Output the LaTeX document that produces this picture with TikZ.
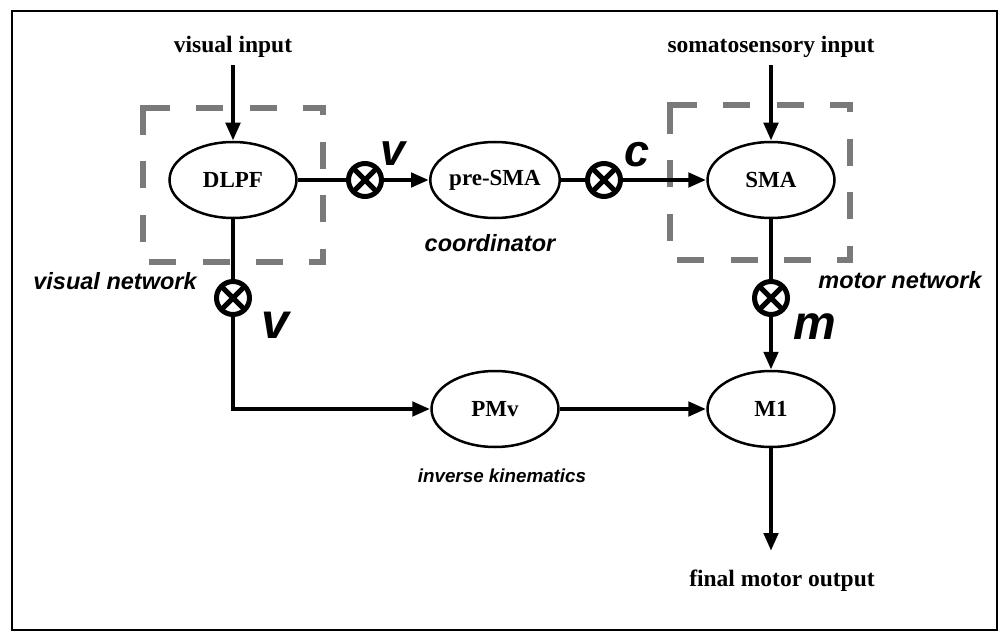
\documentclass[tikz,border=0pt]{standalone}
\usepackage{fontspec}
\setmainfont{Liberation Serif}
\newfontfamily\lblfont{Liberation Sans}
\usetikzlibrary{arrows.meta,shapes.geometric,calc}
\definecolor{dashgray}{HTML}{7A7A7A}
\tikzset{
  area/.style={ellipse, draw=black, line width=2.5pt, minimum width=127pt, minimum height=76pt, inner sep=0pt,
    font=\fontsize{23}{27}\selectfont\bfseries},
  mult/.style={circle, draw=black, line width=5pt, minimum size=33pt, inner sep=0pt,
    path picture={\draw[line width=5pt] (path picture bounding box.north west) -- (path picture bounding box.south east)
       (path picture bounding box.north east) -- (path picture bounding box.south west);}},
  wire/.style={line width=4.5pt},
  flow/.style={line width=4.5pt, -{Triangle[length=18pt,width=14pt]}},
  toplabel/.style={font=\fontsize{23.5}{27}\selectfont\bfseries},
  netlabel/.style={font=\lblfont\fontsize{23.5}{27}\selectfont\bfseries\itshape},
  smalllabel/.style={font=\lblfont\fontsize{18.8}{22}\selectfont\bfseries\itshape},
  siglabel/.style={font=\lblfont\fontsize{45}{50}\selectfont\bfseries\itshape, inner sep=0pt},
  grayline/.style={draw=dashgray, line width=6pt, line join=miter},
  grayframe/.style={grayline, dash pattern=on 27pt off 26.42pt}
}
\begin{document}
\begin{tikzpicture}[x=1pt,y=-1pt]
\useasboundingbox (0,0) rectangle (998,631);
% frame
\draw[line width=2pt] (12,11) rectangle (997,629.5);

% dashed boxes
\foreach \xa/\ya/\xb/\yb in {143/108/323/262, 670/105/850/260}{
  \draw[grayframe] (\xa,\ya) -- (\xb,\ya) -- (\xb,\yb) -- (\xa,\yb) -- cycle;
  \draw[grayline] (\xa,\ya+27) -- (\xa,\ya) -- (\xa+27,\ya);
}

% areas
\node[area] (dlpf) at (233,180) {DLPF};
\node[area] (presma) at (495,180) {pre-SMA};
\node[area] (sma) at (771,180) {SMA};
\node[area] (pmv) at (495,409) {PMv};
\node[area] (m1) at (771,409) {M1};

% multipliers
\node[mult] (x1) at (365,180) {};
\node[mult] (x2) at (604,180) {};
\node[mult] (x3) at (233,298) {};
\node[mult] (x4) at (771,298) {};

% texts
\node[toplabel] (vin) at (233,47) {visual input};
\node[toplabel] (sin) at (771,47) {somatosensory input};
\node[toplabel] (fout) at (782,581) {final motor output};
\node[netlabel] (vnet) at (115,281) {visual network};
\node[netlabel] (mnet) at (900,280) {motor network};
\node[netlabel] (coord) at (490,243) {coordinator};
\node[smalllabel] (ik) at (502,476) {inverse kinematics};
\node[siglabel] (lv1) at (393,153.5) {v};
\node[siglabel] (lc) at (637,155) {c};
\node[siglabel, font=\lblfont\fontsize{50}{54}\selectfont\bfseries\itshape] (lv2) at (275,325) {v};
\node[siglabel, font=\lblfont\fontsize{48}{52}\selectfont\bfseries\itshape] (lm) at (815,327) {m};

% connectors
\coordinate (vstart) at ($(vin.south)+(0,4)$);
\coordinate (sstart) at ($(sin.south)+(0,4)$);
\coordinate (corner) at (dlpf |- pmv);
\coordinate (mend) at (771,551);
\draw[flow] (vstart) -- (dlpf.north);
\draw[flow] (sstart) -- (sma.north);
\draw[wire] (dlpf.east) -- (x1.west);
\draw[flow] (x1.east) -- (presma.west);
\draw[wire] (presma.east) -- (x2.west);
\draw[flow] (x2.east) -- (sma.west);
\draw[wire] (dlpf.south) -- (x3.north);
\draw[flow] (x3.south) -- (corner) -- (pmv.west);
\draw[wire] (sma.south) -- (x4.north);
\draw[flow] (x4.south) -- (m1.north);
\draw[flow] (pmv.east) -- (m1.west);
\draw[flow] (m1.south) -- (mend);
\end{tikzpicture}
\end{document}
